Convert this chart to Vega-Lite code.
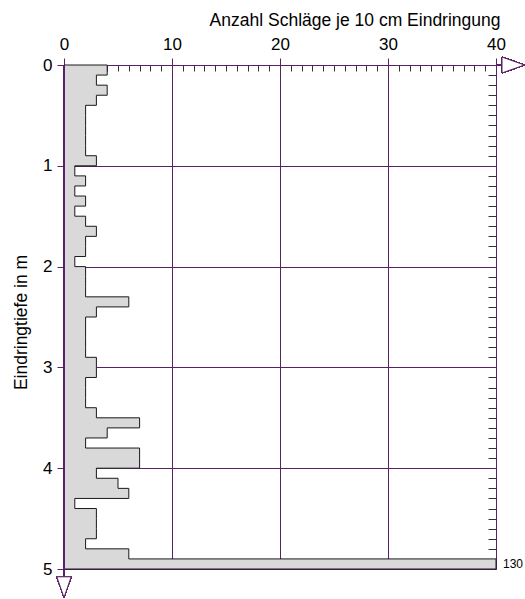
{
  "$schema": "https://vega.github.io/schema/vega-lite/v6.json",
  "width": 432,
  "height": 504,
  "autosize": {"type": "none"},
  "padding": {"left": 64, "top": 65, "right": 29, "bottom": 30},
  "background": "white",
  "config": {
    "view": {"stroke": null},
    "font": "Liberation Sans",
    "axis": {"labelFont": "Liberation Sans", "titleFont": "Liberation Sans", "titleFontWeight": "normal", "labelColor": "#000", "titleColor": "#000", "labelFlush": false, "labelOverlap": false}
  },
  "data": {
    "values": [
      {"tiefe": 0.0, "schlaege": 4}, {"tiefe": 0.1, "schlaege": 3}, {"tiefe": 0.2, "schlaege": 4}, {"tiefe": 0.3, "schlaege": 3}, {"tiefe": 0.4, "schlaege": 2},
      {"tiefe": 0.5, "schlaege": 2}, {"tiefe": 0.6, "schlaege": 2}, {"tiefe": 0.7, "schlaege": 2}, {"tiefe": 0.8, "schlaege": 2}, {"tiefe": 0.9, "schlaege": 3},
      {"tiefe": 1.0, "schlaege": 1}, {"tiefe": 1.1, "schlaege": 2}, {"tiefe": 1.2, "schlaege": 1}, {"tiefe": 1.3, "schlaege": 2}, {"tiefe": 1.4, "schlaege": 1},
      {"tiefe": 1.5, "schlaege": 2}, {"tiefe": 1.6, "schlaege": 3}, {"tiefe": 1.7, "schlaege": 2}, {"tiefe": 1.8, "schlaege": 2}, {"tiefe": 1.9, "schlaege": 1},
      {"tiefe": 2.0, "schlaege": 2}, {"tiefe": 2.1, "schlaege": 2}, {"tiefe": 2.2, "schlaege": 2}, {"tiefe": 2.3, "schlaege": 6}, {"tiefe": 2.4, "schlaege": 3},
      {"tiefe": 2.5, "schlaege": 2}, {"tiefe": 2.6, "schlaege": 2}, {"tiefe": 2.7, "schlaege": 2}, {"tiefe": 2.8, "schlaege": 2}, {"tiefe": 2.9, "schlaege": 3},
      {"tiefe": 3.0, "schlaege": 3}, {"tiefe": 3.1, "schlaege": 2}, {"tiefe": 3.2, "schlaege": 2}, {"tiefe": 3.3, "schlaege": 2}, {"tiefe": 3.4, "schlaege": 3},
      {"tiefe": 3.5, "schlaege": 7}, {"tiefe": 3.6, "schlaege": 4}, {"tiefe": 3.7, "schlaege": 2}, {"tiefe": 3.8, "schlaege": 7}, {"tiefe": 3.9, "schlaege": 7},
      {"tiefe": 4.0, "schlaege": 3}, {"tiefe": 4.1, "schlaege": 5}, {"tiefe": 4.2, "schlaege": 6}, {"tiefe": 4.3, "schlaege": 1}, {"tiefe": 4.4, "schlaege": 3},
      {"tiefe": 4.5, "schlaege": 3}, {"tiefe": 4.6, "schlaege": 3}, {"tiefe": 4.7, "schlaege": 2}, {"tiefe": 4.8, "schlaege": 6}, {"tiefe": 4.9, "schlaege": 130},
      {"tiefe": 5.0, "schlaege": 130}
    ]
  },
  "layer": [
    {
      "mark": {"type": "area", "orient": "horizontal", "interpolate": "step-before", "fill": "#d9d9d9", "stroke": "#1a1a1a", "strokeWidth": 1},
      "encoding": {
        "y": {
          "field": "tiefe", "type": "quantitative",
          "scale": {"domain": [0, 5], "reverse": true, "nice": false, "zero": false},
          "axis": {
            "orient": "left", "values": [0, 1, 2, 3, 4, 5], "format": "d",
            "title": "Eindringtiefe in m", "titleFontSize": 17.5, "titleAngle": -90, "titleX": -38, "titleY": 257, "titleAlign": "center", "titleBaseline": "alphabetic",
            "labelFontSize": 17, "labelPadding": 5, "labelFlush": false,
            "tickSize": 7, "tickColor": "#5b2166", "tickWidth": 1,
            "domainColor": "#5b2166", "domainWidth": 1,
            "grid": true, "gridColor": "#5b2166", "gridWidth": 1, "gridOpacity": 1
          }
        },
        "x": {
          "field": "schlaege", "type": "quantitative",
          "scale": {"domain": [0, 40], "nice": false, "clamp": true},
          "axis": {
            "orient": "top", "values": [0, 10, 20, 30, 40], "format": "d",
            "title": "Anzahl Schläge je 10 cm Eindringung", "titleFontSize": 17.5, "titleX": 436, "titleY": -40, "titleAlign": "right", "titleAnchor": "end", "titleBaseline": "alphabetic", "titleAngle": 0,
            "labelFontSize": 17, "labelPadding": 5, "labelFlush": false,
            "tickSize": 7, "tickColor": "#5b2166", "tickWidth": 1,
            "domainColor": "#5b2166", "domainWidth": 1,
            "grid": true, "gridColor": "#5b2166", "gridWidth": 1, "gridOpacity": 1
          }
        },
        "x2": {"datum": 0}
      }
    },
    {
      "transform": [{"filter": "datum.schlaege > 40 && datum.tiefe < 5"}],
      "mark": {"type": "text", "align": "left", "baseline": "middle", "dx": 7, "dy": 5, "fontSize": 12, "font": "Liberation Sans", "color": "#000"},
      "encoding": {
        "x": {
          "datum": 40, "type": "quantitative",
          "scale": {"domain": [0, 40], "nice": false, "clamp": true},
          "axis": {
            "orient": "bottom", "offset": -504,
            "values": [1, 2, 3, 4, 5, 6, 7, 8, 9, 11, 12, 13, 14, 15, 16, 17, 18, 19, 21, 22, 23, 24, 25, 26, 27, 28, 29, 31, 32, 33, 34, 35, 36, 37, 38, 39],
            "labels": false, "domain": false, "grid": false, "title": null,
            "tickSize": 6, "tickColor": "#333333", "tickWidth": 1
          }
        },
        "y": {
          "field": "tiefe", "type": "quantitative",
          "scale": {"domain": [0, 5], "reverse": true, "nice": false, "zero": false},
          "axis": {
            "orient": "right",
            "values": [0.1, 0.2, 0.3, 0.4, 0.5, 0.6, 0.7, 0.8, 0.9, 1.1, 1.2, 1.3, 1.4, 1.5, 1.6, 1.7, 1.8, 1.9, 2.1, 2.2, 2.3, 2.4, 2.5, 2.6, 2.7, 2.8, 2.9, 3.1, 3.2, 3.3, 3.4, 3.5, 3.6, 3.7, 3.8, 3.9, 4.1, 4.2, 4.3, 4.4, 4.5, 4.6, 4.7, 4.8, 4.9],
            "labels": false, "grid": false, "title": null,
            "tickSize": -8, "tickColor": "#333333", "tickWidth": 1,
            "domainColor": "#5b2166", "domainWidth": 1
          }
        },
        "text": {"field": "schlaege", "type": "quantitative"}
      }
    },
    {
      "mark": {"type": "rule", "color": "#5b2166", "strokeWidth": 1},
      "encoding": {
        "x": {"datum": 0, "type": "quantitative", "axis": null},
        "y": {"datum": 0, "type": "quantitative", "axis": null},
        "y2": {"datum": 5}
      }
    },
    {
      "mark": {"type": "point", "shape": "M0,0L0,0.52M-0.48,0.52L0.48,0.52L0,1.9Z", "size": 900, "filled": false, "fill": "white", "fillOpacity": 1, "stroke": "#5b2166", "strokeWidth": 1, "opacity": 1},
      "encoding": {
        "x": {"datum": 0, "type": "quantitative", "axis": null},
        "y": {"datum": 5, "type": "quantitative", "axis": null}
      }
    },
    {
      "mark": {"type": "point", "shape": "M0,0L0.4,0M0.4,-0.53L0.4,0.53L1.9,0Z", "size": 900, "filled": false, "fill": "white", "fillOpacity": 1, "stroke": "#5b2166", "strokeWidth": 1, "opacity": 1},
      "encoding": {
        "x": {"datum": 40, "type": "quantitative", "axis": null},
        "y": {"datum": 0, "type": "quantitative", "axis": null}
      }
    }
  ],
  "resolve": {"axis": {"x": "independent", "y": "independent"}}
}
